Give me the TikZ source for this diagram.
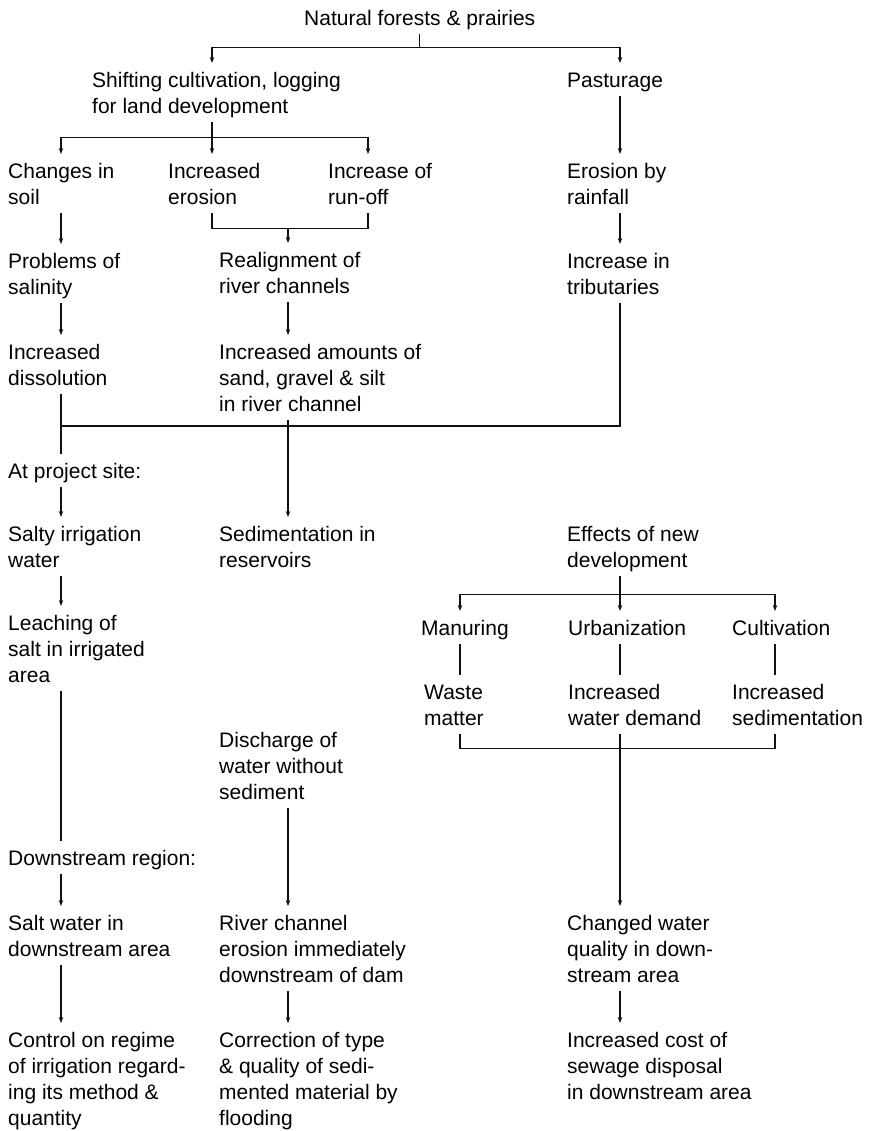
\documentclass[tikz,border=0pt]{standalone}
\usepackage{fontspec}
\setmainfont{Liberation Sans}
\usepackage{tikz}
\usetikzlibrary{
  arrows.meta,
  calc
}
\definecolor{inkline}{HTML}{111111}
\newcommand{\topgap}{\rule{0pt}{24.5pt}}
\newcommand{\botgap}{\rule[-8pt]{0pt}{8pt}}
\tikzset{
  txt/.style={
    anchor=north west, inner sep=0pt, align=left,
    font=\fontsize{21}{26}\selectfont
  },
  flowline/.style={
    line width=1.1pt, color=inkline
  },
  flowarrow/.style={
    flowline, -{Stealth[length=6pt,width=4.5pt]}
  },
}

\begin{document}
\begin{tikzpicture}[x=1pt,y=-1pt]

  \useasboundingbox (0,0) rectangle (870,1131);

  %% Column axes of the connectors
  \coordinate (cL)  at (61,0);
  \coordinate (cS)  at (212,0);
  \coordinate (cM)  at (288,0);
  \coordinate (cR)  at (368,0);
  \coordinate (cMa) at (460,0);
  \coordinate (cP)  at (620,0);
  \coordinate (cCu) at (775,0);

  %% Top of the tree
  \node[txt] (nat)   at (304,1)   {\topgap Natural forests \& prairies\botgap};
  \node[txt] (shift) at (92,63)   {\topgap Shifting cultivation, logging\\for land development\botgap};
  \node[txt] (pas)   at (567,63)  {\topgap Pasturage\botgap};

  %% Causes
  \node[txt] (chg)   at (8,154)   {\topgap Changes in\\soil\botgap};
  \node[txt] (ero)   at (168,154) {\topgap Increased\\erosion\botgap};
  \node[txt] (run)   at (328,154) {\topgap Increase of\\run-off\botgap};
  \node[txt] (erain) at (567,154) {\topgap Erosion by\\rainfall\botgap};
  \node[txt] (prob)  at (8,244)   {\topgap Problems of\\salinity\botgap};
  \node[txt] (real)  at (219,243) {\topgap Realignment of\\river channels\botgap};
  \node[txt] (trib)  at (567,244) {\topgap Increase in\\tributaries\botgap};
  \node[txt] (diss)  at (8,335)   {\topgap Increased\\dissolution\botgap};
  \node[txt] (amt)   at (219,335) {\topgap Increased amounts of\\sand, gravel \& silt\\in river channel\botgap};

  %% Project site
  \node[txt] (site)  at (8,454)   {\topgap At project site:\botgap};
  \node[txt] (salty) at (8,517)   {\topgap Salty irrigation\\water\botgap};
  \node[txt] (sed)   at (219,517) {\topgap Sedimentation in\\reservoirs\botgap};
  \node[txt] (eff)   at (567,517) {\topgap Effects of new\\development\botgap};
  \node[txt] (leach) at (8,606)   {\topgap Leaching of\\salt in irrigated\\area\botgap};
  \node[txt] (man)   at (421,611) {\topgap Manuring\botgap};
  \node[txt] (urb)   at (568,611) {\topgap Urbanization\botgap};
  \node[txt] (cult)  at (732,611) {\topgap Cultivation\botgap};
  \node[txt] (waste) at (424,675) {\topgap Waste\\matter\botgap};
  \node[txt] (wat)   at (568,675) {\topgap Increased\\water demand\botgap};
  \node[txt] (sedi)  at (732,675) {\topgap Increased\\sedimentation\botgap};
  \node[txt] (dis)   at (219,723) {\topgap Discharge of\\water without\\sediment\botgap};

  %% Downstream region
  \node[txt] (down)  at (8,841)   {\topgap Downstream region:\botgap};
  \node[txt] (saltw) at (8,906)   {\topgap Salt water in\\downstream area\botgap};
  \node[txt] (river) at (219,906) {\topgap River channel\\erosion immediately\\downstream of dam\botgap};
  \node[txt] (chw)   at (567,906) {\topgap Changed water\\quality in down-\\stream area\botgap};
  \node[txt] (ctrl)  at (8,1023)  {\topgap Control on regime\\of irrigation regard-\\ing its method \&\\quantity\botgap};
  \node[txt] (corr)  at (219,1023) {\topgap Correction of type\\\& quality of sedi-\\mented material by\\flooding\botgap};
  \node[txt] (cost)  at (567,1023) {\topgap Increased cost of\\sewage disposal\\in downstream area\botgap};

  %% Splits at the top
  \draw[flowline] (nat.south) -- ++(0,13.5) coordinate (jNat);
  \draw[flowarrow] (jNat) -| (shift.north -| cS);
  \draw[flowarrow] (jNat) -| (pas.north -| cP);

  \draw[flowline] (shift.south -| cS) -- ++(0,15.5) coordinate (jShift);
  \draw[flowarrow] (jShift) -| (chg.north -| cL);
  \draw[flowarrow] (jShift) -- (ero.north -| cS);
  \draw[flowarrow] (jShift) -| (run.north -| cR);
  \draw[flowarrow] (pas.south -| cP) -- (erain.north -| cP);

  %% Causes chain
  \draw[flowarrow] (chg.south -| cL) -- (prob.north -| cL);
  \draw[flowarrow] (prob.south -| cL) -- (diss.north -| cL);
  \draw[flowline] (ero.south -| cS) -- ++(0,16) coordinate (jEro) -| (run.south -| cR);
  \draw[flowarrow] (jEro -| cM) -- (real.north -| cM);
  \draw[flowarrow] (real.south -| cM) -- (amt.north -| cM);
  \draw[flowarrow] (erain.south -| cP) -- (trib.north -| cP);

  %% Merge line
  \coordinate (jMerge) at (620,426);
  \draw[flowline] (trib.south -| cP) -- (jMerge) -- (jMerge -| cL);
  \draw[flowline] (diss.south -| cL) -- (site.north -| cL);
  \draw[flowarrow] (amt.south -| cM) -- (sed.north -| cM);

  %% Project site chain
  \draw[flowarrow] (site.south -| cL) -- (salty.north -| cL);
  \draw[flowarrow] (salty.south -| cL) -- (leach.north -| cL);
  \draw[flowline] (leach.south -| cL) -- (down.north -| cL);

  %% New development
  \draw[flowline] (eff.south -| cP) -- ++(0,18.5) coordinate (jEff);
  \draw[flowarrow] (jEff) -| (man.north -| cMa);
  \draw[flowarrow] (jEff) -- (urb.north -| cP);
  \draw[flowarrow] (jEff) -| (cult.north -| cCu);
  \draw[flowline] (man.south -| cMa) -- (waste.north -| cMa);
  \draw[flowline] (urb.south -| cP) -- (wat.north -| cP);
  \draw[flowline] (cult.south -| cCu) -- (sedi.north -| cCu);
  \draw[flowline] (waste.south -| cMa) -- ++(0,14.5) coordinate (jWaste) -| (sedi.south -| cCu);
  \draw[flowarrow] (wat.south -| cP) -- (chw.north -| cP);

  %% Downstream chains
  \draw[flowarrow] (dis.south -| cM) -- (river.north -| cM);
  \draw[flowarrow] (down.south -| cL) -- (saltw.north -| cL);
  \draw[flowarrow] (saltw.south -| cL) -- (ctrl.north -| cL);
  \draw[flowarrow] (river.south -| cM) -- (corr.north -| cM);
  \draw[flowarrow] (chw.south -| cP) -- (cost.north -| cP);

\end{tikzpicture}
\end{document}
